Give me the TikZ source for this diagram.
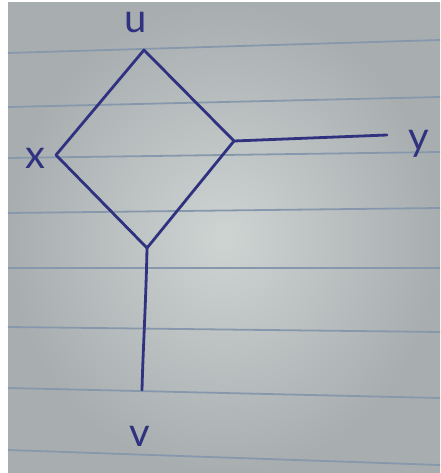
\documentclass[tikz,border=0pt]{standalone}
\usepackage{fontspec}
\setmainfont{Lato}
\begin{document}
\begin{tikzpicture}[x=1pt,y=-1pt,
  ink/.style={draw=inkblue,line width=2.8pt,line cap=round,line join=round},
  rule/.style={draw=rulecol,line width=1.8pt},
  lbl/.style={text=inkblue,font=\fontsize{40}{40}\selectfont,inner sep=0pt,anchor=base}]
\definecolor{inkblue}{RGB}{48,50,128}
\definecolor{rulecol}{RGB}{135,152,172}
\definecolor{paperlight}{RGB}{206,212,210}
\definecolor{paperdark}{RGB}{168,174,176}
\useasboundingbox (0,0) rectangle (440,473);
\fill[white] (0,0) rectangle (440,473);
\shade[inner color=paperlight,outer color=paperdark] (8,3) rectangle (440,473);
% ruled lines
\draw[rule] (8,-2) -- (440,-17);
\draw[rule] (8,53) -- (440,40);
\draw[rule] (8,107) -- (440,97);
\draw[rule] (8,158) -- (440,152);
\draw[rule] (8,213) -- (440,208);
\draw[rule] (8,268) -- (440,268);
\draw[rule] (8,327) -- (440,332);
\draw[rule] (8,388) -- (440,398);
\draw[rule] (8,450) -- (440,465);
% vertices
\coordinate (u) at (144,50);
\coordinate (x) at (56,155);
\coordinate (r) at (234,141);
\coordinate (b) at (147,248);
\coordinate (y) at (387,135);
\coordinate (v) at (142,390);
\draw[ink] (u) -- (x) -- (b) -- (r) -- cycle;
\draw[ink] (r) -- (y);
\draw[ink] (b) .. controls (146,300) and (143,350) .. (v);
% labels
\node[lbl] (lu) at (136,33) {u};
\node[lbl] (lx) at (35,168) {x};
\node[lbl] (ly) at (419,150) {y};
\node[lbl] (lv) at (140,446) {v};
\end{tikzpicture}
\end{document}
